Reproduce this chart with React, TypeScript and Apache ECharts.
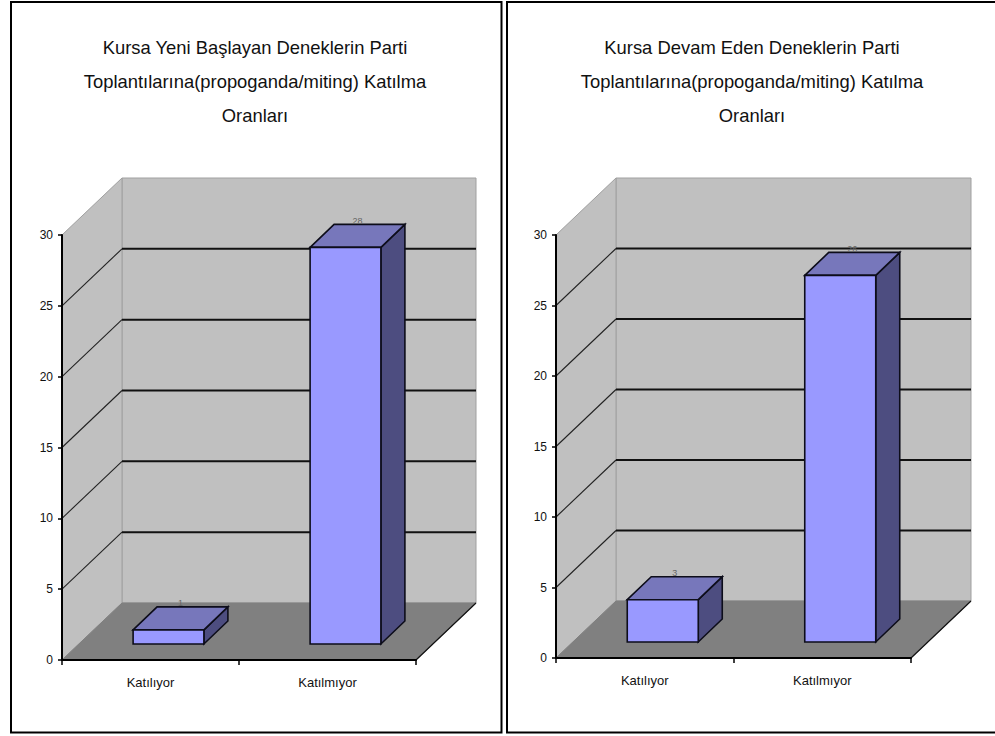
import React, { useEffect, useRef } from "react";
import * as echarts from "echarts";

const categories = ["Katılıyor", "Katılmıyor"];
const newStartersValues = [1, 28];
const continuingValues = [3, 26];
const gridTicks = [5, 10, 15, 20, 25];
const newStartersTitle = "Kursa Yeni Başlayan Deneklerin Parti\nToplantılarına(propoganda/miting) Katılma\nOranları";
const continuingTitle = "Kursa Devam Eden Deneklerin Parti\nToplantılarına(propoganda/miting) Katılma\nOranları";

const FONT = "'Liberation Sans', Arial, sans-serif";
const WALL = "#c0c0c0";
const FLOOR = "#808080";
const EDGE = "#0d0d1a";
const DEPTH_X = 60;
const DEPTH_Y = -57;
const BAR_DEPTH_X = 24;
const BAR_DEPTH_Y = -23;
const BAR_OFFSET_X = 18;
const BAR_OFFSET_Y = -16;

const poly = (points: number[][], fill: string, stroke: string, lineWidth: number, z2 = 0) => ({
  type: "polygon",
  z2,
  shape: { points },
  style: { fill, stroke, lineWidth, lineJoin: "miter" },
});

const seg = (a: number[], b: number[], stroke: string, lineWidth: number, z2 = 1) => ({
  type: "line",
  z2,
  shape: { x1: a[0], y1: a[1], x2: b[0], y2: b[1] },
  style: { stroke, lineWidth },
});

// Walls and floor of the 3D box, spanned from the plot's corner coordinates.
const renderBox = (_p: any, api: any) => {
  const o = api.coord([0, 0]);
  const top = api.coord([0, 30]);
  const w = api.size([1, 0])[0] * 2;
  const x0 = o[0] - w / 4;
  const x1 = x0 + w;
  const y0 = o[1];
  const y1 = top[1];
  const back = (x: number, y: number) => [x + DEPTH_X, y + DEPTH_Y];
  return {
    type: "group",
    children: [
      poly([back(x0, y1), back(x1, y1), back(x1, y0), back(x0, y0)], WALL, "#a0a0a0", 1),
      poly([[x0, y1], back(x0, y1), back(x0, y0), [x0, y0]], WALL, "#a0a0a0", 1),
      poly([[x0, y0], back(x0, y0), back(x1, y0), [x1, y0]], FLOOR, FLOOR, 1),
      seg([x1, y0], back(x1, y0), "#111111", 1.2),
    ],
  };
};

// One horizontal grid level: a thin line up the side wall, a heavier one across the back.
const renderGridLine = (_p: any, api: any) => {
  const a = api.coord([0, api.value(0)]);
  const w = api.size([1, 0])[0] * 2;
  const x0 = a[0] - w / 4;
  const x1 = x0 + w;
  return {
    type: "group",
    children: [
      seg([x0, a[1]], [x0 + DEPTH_X, a[1] + DEPTH_Y], "#222222", 1.1),
      seg([x0 + DEPTH_X, a[1] + DEPTH_Y], [x1 + DEPTH_X, a[1] + DEPTH_Y], "#111111", 2),
    ],
  };
};

// A cuboid bar with front, top and side faces and its value above the top face.
const renderBar = (_p: any, api: any) => {
  const cat = api.value(0);
  const val = api.value(1);
  const base = api.coord([cat, 0]);
  const peak = api.coord([cat, val]);
  const w = api.size([1, 0])[0] * 0.4;
  const l = base[0] + BAR_OFFSET_X - w / 2;
  const r = l + w;
  const b = base[1] + BAR_OFFSET_Y;
  const t = peak[1] + BAR_OFFSET_Y;
  const dx = BAR_DEPTH_X;
  const dy = BAR_DEPTH_Y;
  return {
    type: "group",
    children: [
      poly([[r, t], [r + dx, t + dy], [r + dx, b + dy], [r, b]], "#4d4d80", EDGE, 1.6),
      poly([[l, t], [l + dx, t + dy], [r + dx, t + dy], [r, t]], "#7777bb", EDGE, 1.6),
      poly([[l, t], [r, t], [r, b], [l, b]], "#9999ff", EDGE, 1.6),
      {
        type: "text",
        z2: 3,
        style: {
          x: (l + r + dx) / 2,
          y: t + dy + 1,
          text: String(val),
          fill: "#666666",
          font: `9px ${FONT}`,
          align: "center",
          verticalAlign: "bottom",
        },
      },
    ],
  };
};

const panelAxes = (gridIndex: number) => ({
  x: {
    gridIndex,
    type: "category",
    data: categories,
    z: 6,
    axisLine: { show: true, lineStyle: { color: "#000", width: 2 } },
    axisTick: { show: true, alignWithLabel: false, length: 5, lineStyle: { color: "#000", width: 1.5 } },
    axisLabel: { color: "#111", fontFamily: FONT, fontSize: 13, margin: 16 },
    splitLine: { show: false },
  },
  y: {
    gridIndex,
    type: "value",
    min: 0,
    max: 30,
    interval: 5,
    z: 6,
    axisLine: { show: true, lineStyle: { color: "#000", width: 2 } },
    axisTick: { show: true, length: 4, lineStyle: { color: "#000", width: 1.5 } },
    axisLabel: { color: "#111", fontFamily: FONT, fontSize: 12, margin: 9 },
    splitLine: { show: false },
  },
});

const panelSeries = (index: number, values: number[]) => [
  { type: "custom", xAxisIndex: index, yAxisIndex: index, z: 2, silent: true, renderItem: renderBox, data: [[0, 0]], clip: false },
  {
    type: "custom",
    xAxisIndex: index,
    yAxisIndex: index,
    z: 3,
    silent: true,
    renderItem: renderGridLine,
    data: gridTicks.map((t) => [t]),
    encode: { y: 0 },
    clip: false,
  },
  {
    type: "custom",
    xAxisIndex: index,
    yAxisIndex: index,
    z: 4,
    silent: true,
    renderItem: renderBar,
    data: values.map((v, i) => [i, v]),
    clip: false,
  },
];

const titleStyle = { color: "#111", fontFamily: FONT, fontSize: 18.4, fontWeight: "normal", lineHeight: 34 };

export default function App() {
  const ref = useRef<HTMLDivElement>(null);

  useEffect(() => {
    document.body.style.margin = "0";
    const chart = echarts.init(ref.current!, null, { renderer: "svg" });
    const a0 = panelAxes(0);
    const a1 = panelAxes(1);
    chart.setOption({
      animation: false,
      backgroundColor: "#ffffff",
      title: [
        { text: newStartersTitle, left: 250, top: 25, textAlign: "center", textStyle: titleStyle },
        { text: continuingTitle, left: 747, top: 25, textAlign: "center", textStyle: titleStyle },
      ],
      grid: [
        { left: 62, top: 235, width: 354, height: 425 },
        { left: 556, top: 235, width: 355, height: 423 },
      ],
      xAxis: [a0.x, a1.x],
      yAxis: [a0.y, a1.y],
      graphic: [
        {
          type: "rect",
          z: -1,
          shape: { x: 11, y: 2, width: 490.5, height: 730.5 },
          style: { fill: "#fff", stroke: "#000", lineWidth: 2 },
        },
        {
          type: "polyline",
          z: -1,
          shape: { points: [[1000, 2], [507, 2], [507, 732.5], [1000, 732.5]] },
          style: { fill: "#fff", stroke: "#000", lineWidth: 2 },
        },
      ],
      series: [...panelSeries(0, newStartersValues), ...panelSeries(1, continuingValues)],
    });
    return () => chart.dispose();
  }, []);

  return <div ref={ref} style={{ width: 995, height: 736 }} />;
}
